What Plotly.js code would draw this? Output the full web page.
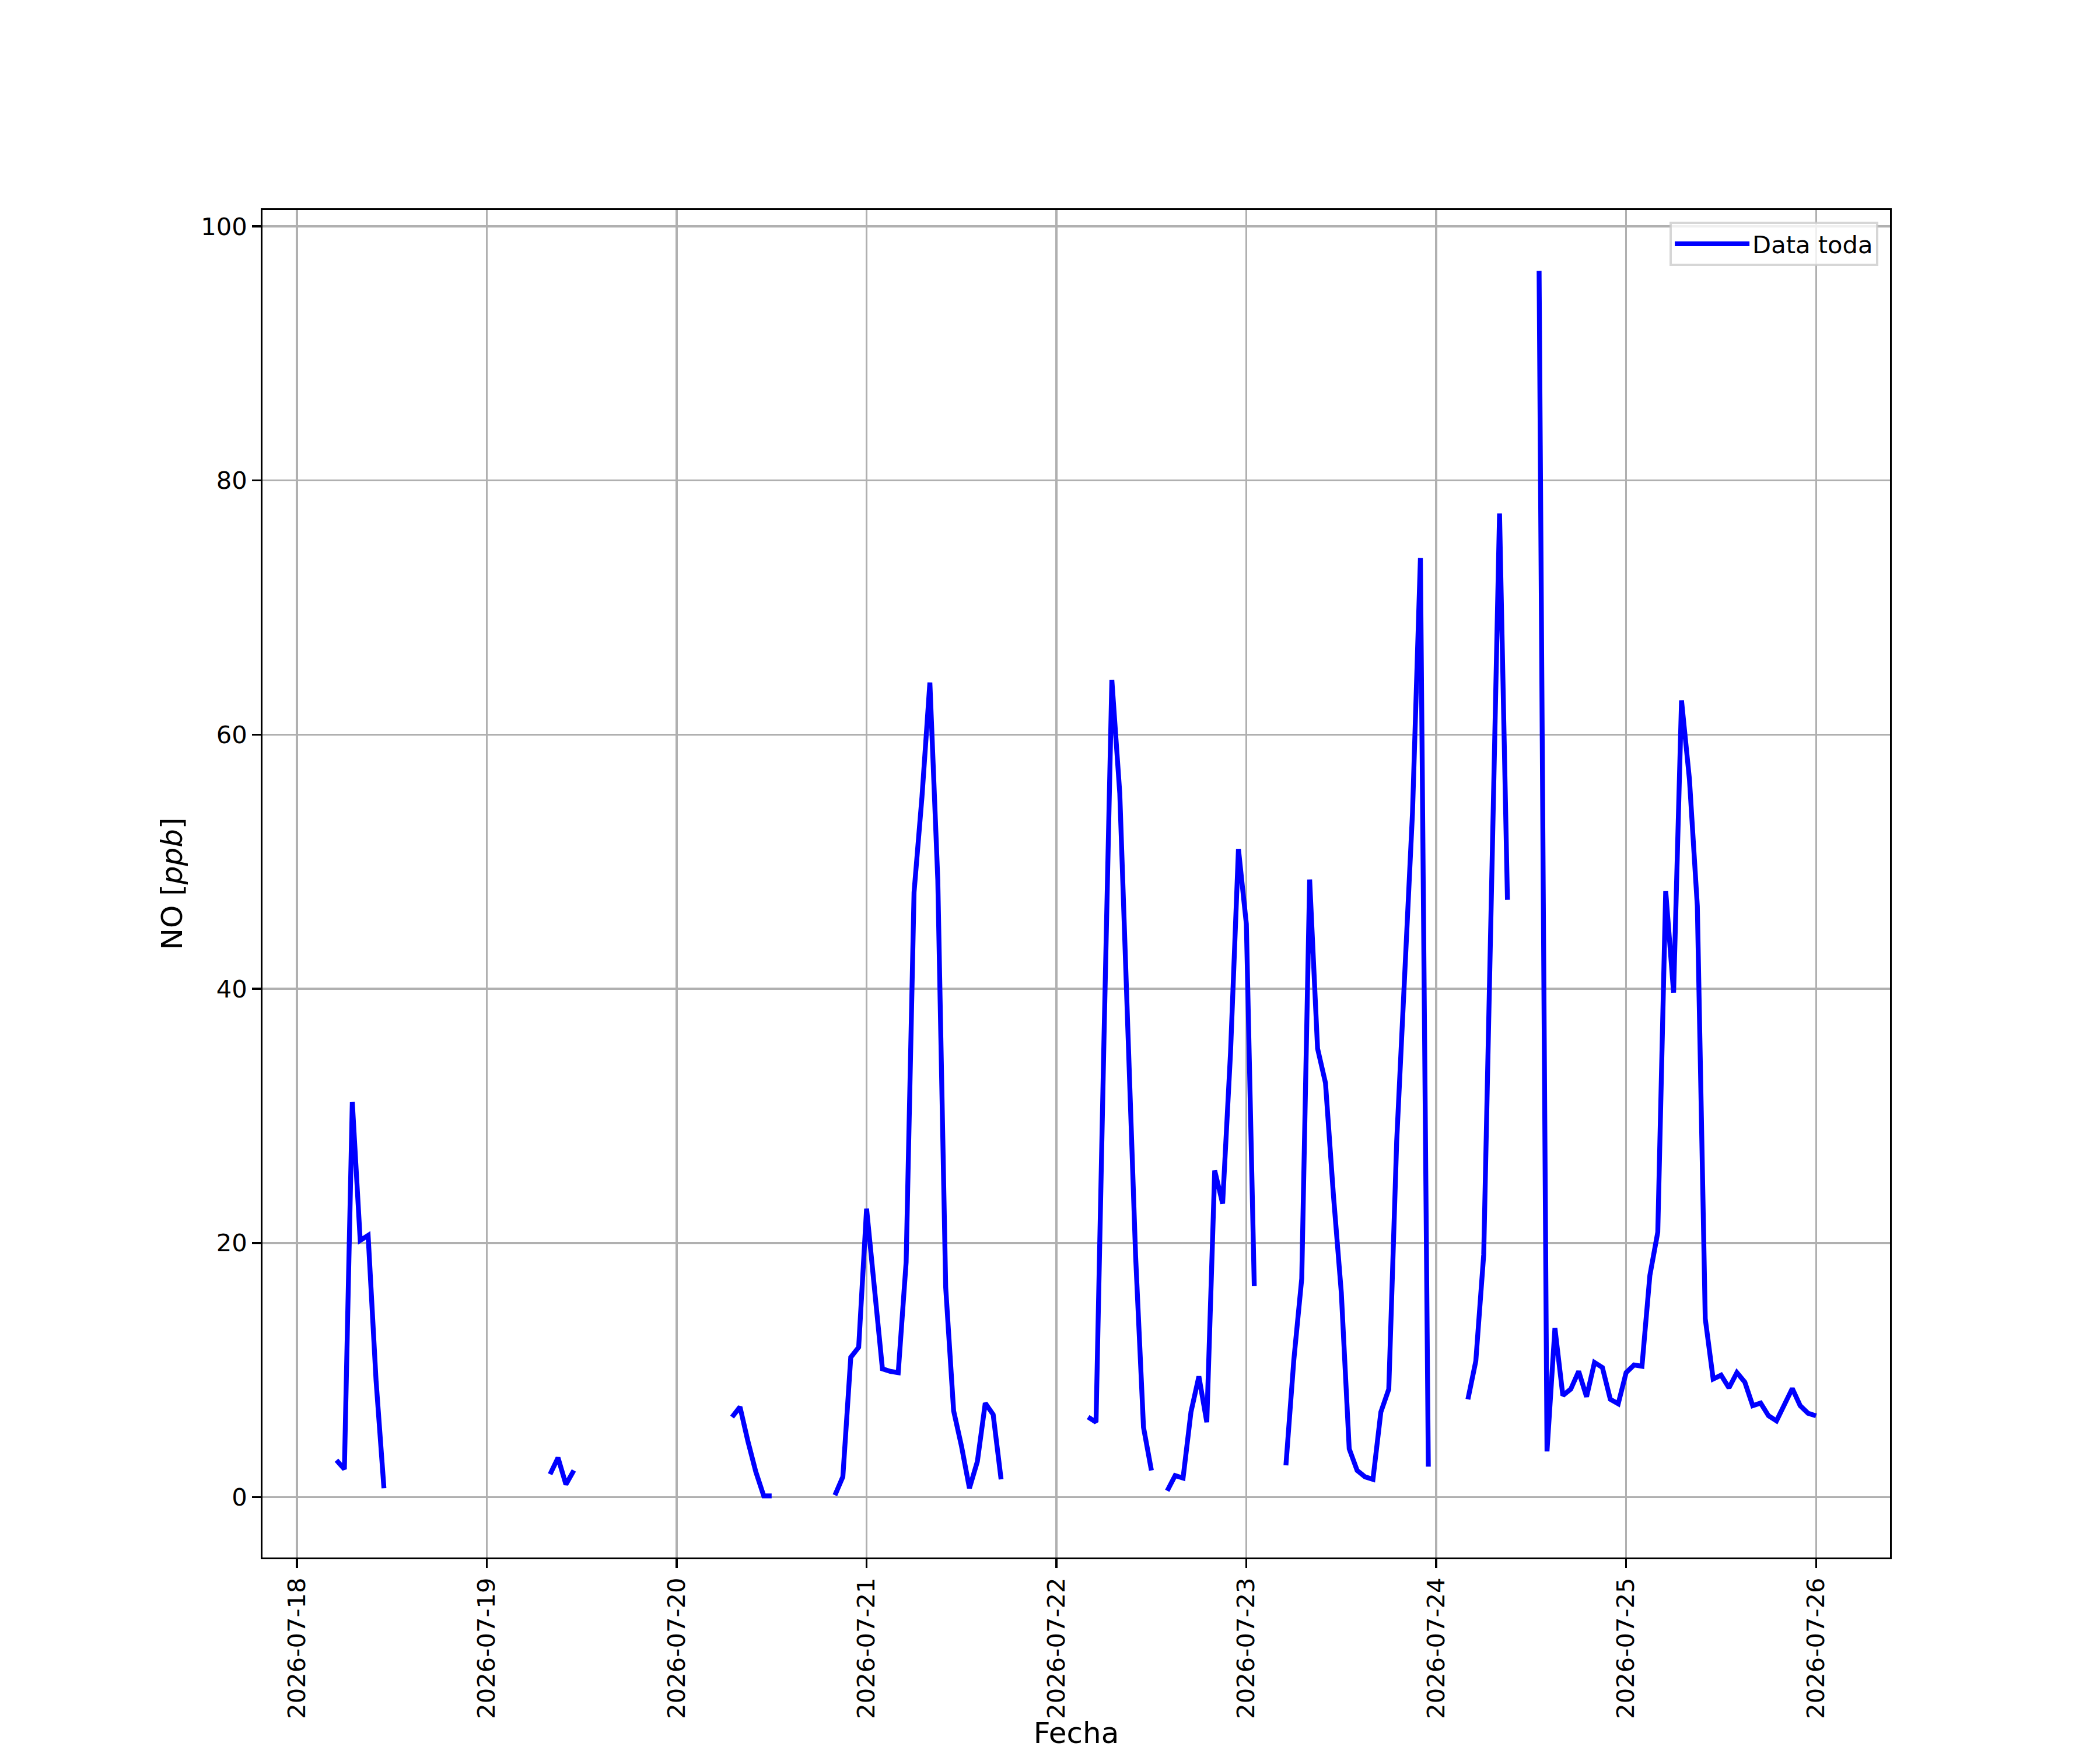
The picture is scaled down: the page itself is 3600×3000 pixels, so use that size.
<!DOCTYPE html>
<html>
<head>
<meta charset="utf-8">
<script src="https://cdn.plot.ly/plotly-3.0.1.min.js"></script>
<style>
  html, body { margin: 0; padding: 0; background: #ffffff; }
  #chart { width: 3600px; height: 3000px; }
</style>
</head>
<body>
<div id="chart"></div>
<script>
const N = null;
// Hourly NO [ppb] values, one array per day (index = hour of day)
const days = ['2026-07-18','2026-07-19','2026-07-20','2026-07-21','2026-07-22','2026-07-23','2026-07-24','2026-07-25','2026-07-26'];
const no_0718 = [N,N,N,N,N, 2.9,2.2,31.1,20.2,20.6,9.2,0.7, N,N,N,N,N,N,N,N,N,N,N,N];
const no_0719 = [N,N,N,N,N,N,N,N, 1.8,3.1,1.0,2.1, N,N,N,N,N,N,N,N,N,N,N,N];
const no_0720 = [N,N,N,N,N,N,N, 6.3,7.1,4.4,2.0,0.1,0.1, N,N,N,N,N,N,N, 0.15,1.6,11.0,11.8];
const no_0721 = [22.7,16.7,10.1,9.9,9.8,18.5,47.6,55.1,64.1,48.6,16.5,6.8,4.0,0.7,2.8,7.4,6.5,1.4, N,N,N,N,N,N];
const no_0722 = [N,N,N,N, 6.3,5.9,35.9,64.3,55.4,36.7,19.0,5.5,2.1, N, 0.5,1.7,1.5,6.7,9.5,5.9,25.7,23.1,35.0,51.0];
const no_0723 = [45.1,16.6, N,N,N, 2.5,10.8,17.2,48.6,35.3,32.6,23.8,16.1,3.8,2.1,1.6,1.4,6.7,8.5,28.0,41.0,53.9,73.9,2.4];
const no_0724 = [N,N,N,N, 7.7,10.7,19.1,48.0,77.4,47.0, N,N,N, 96.5,3.6,13.3,8.0,8.5,9.9,7.9,10.6,10.2,7.7,7.35];
const no_0725 = [9.8,10.4,10.3,17.45,20.85,47.7,39.7,62.7,56.5,46.5,14.05,9.3,9.6,8.6,9.8,9.05,7.2,7.4,6.4,6.0,7.3,8.55,7.2,6.6];
const no_0726 = [6.4];
const perDay = [no_0718,no_0719,no_0720,no_0721,no_0722,no_0723,no_0724,no_0725,no_0726];

const yTicks = [0, 20, 40, 60, 80, 100];

// assemble time series (skip leading hours before first measurement)
const xs = [], ys = [];
let started = false;
perDay.forEach((arr, d) => {
  arr.forEach((v, h) => {
    if (!started && v === null) return;
    started = true;
    xs.push(days[d] + ' ' + String(h).padStart(2, '0') + ':00:00');
    ys.push(v);
  });
});

const PX = 300 / 72; // points -> px at 300 dpi
const FONT = 'DejaVu Sans, sans-serif';
const FS = 10 * PX;
const FS_LABEL = 12 * PX;

const trace = {
  x: xs, y: ys,
  type: 'scatter', mode: 'lines',
  name: 'Data toda',
  connectgaps: false,
  line: { color: '#0000ff', width: 2 * PX }
};

const layout = {
  width: 3600, height: 3000,
  paper_bgcolor: '#ffffff', plot_bgcolor: '#ffffff',
  margin: { l: 450, r: 360, t: 360, b: 330, pad: 0 },
  font: { family: FONT, size: FS, color: '#000000' },
  showlegend: true,
  legend: {
    x: 0.9928, y: 0.9913, xanchor: 'right', yanchor: 'top',
    bgcolor: 'rgba(255,255,255,0.8)',
    bordercolor: 'rgba(204,204,204,0.8)',
    borderwidth: 1.0 * PX,
    font: { family: FONT, size: FS, color: '#000000' },
    itemwidth: 128
  },
  xaxis: {
    type: 'date',
    range: ['2026-07-17 19:39:00', '2026-07-26 09:21:00'],
    tick0: '2026-07-18', dtick: 86400000,
    tickformat: '%Y-%m-%d',
    tickangle: -90,
    ticks: 'outside', ticklen: 3.5 * PX, tickwidth: 0.8 * PX, tickcolor: '#000000',
    showline: true, mirror: true, linecolor: '#000000', linewidth: 0.8 * PX,
    showgrid: true, gridcolor: '#b0b0b0', gridwidth: 0.8 * PX,
    zeroline: false,
    tickfont: { family: FONT, size: FS, color: '#000000' },
    title: { text: 'Fecha', font: { family: FONT, size: FS_LABEL, color: '#000000' }, standoff: 28 },
    automargin: false
  },
  yaxis: {
    range: [-4.75, 101.29],
    tickvals: yTicks, ticktext: yTicks.map(String),
    ticks: 'outside', ticklen: 3.5 * PX, tickwidth: 0.8 * PX, tickcolor: '#000000',
    showline: true, mirror: true, linecolor: '#000000', linewidth: 0.8 * PX,
    showgrid: true, gridcolor: '#b0b0b0', gridwidth: 0.8 * PX,
    zeroline: false,
    tickfont: { family: FONT, size: FS, color: '#000000' },
    title: { text: 'NO [<i>ppb</i>]', font: { family: FONT, size: FS_LABEL, color: '#000000' }, standoff: 4 * PX },
    automargin: false
  }
};

Plotly.newPlot('chart', [trace], layout, { staticPlot: true, displayModeBar: false });
</script>
</body>
</html>
